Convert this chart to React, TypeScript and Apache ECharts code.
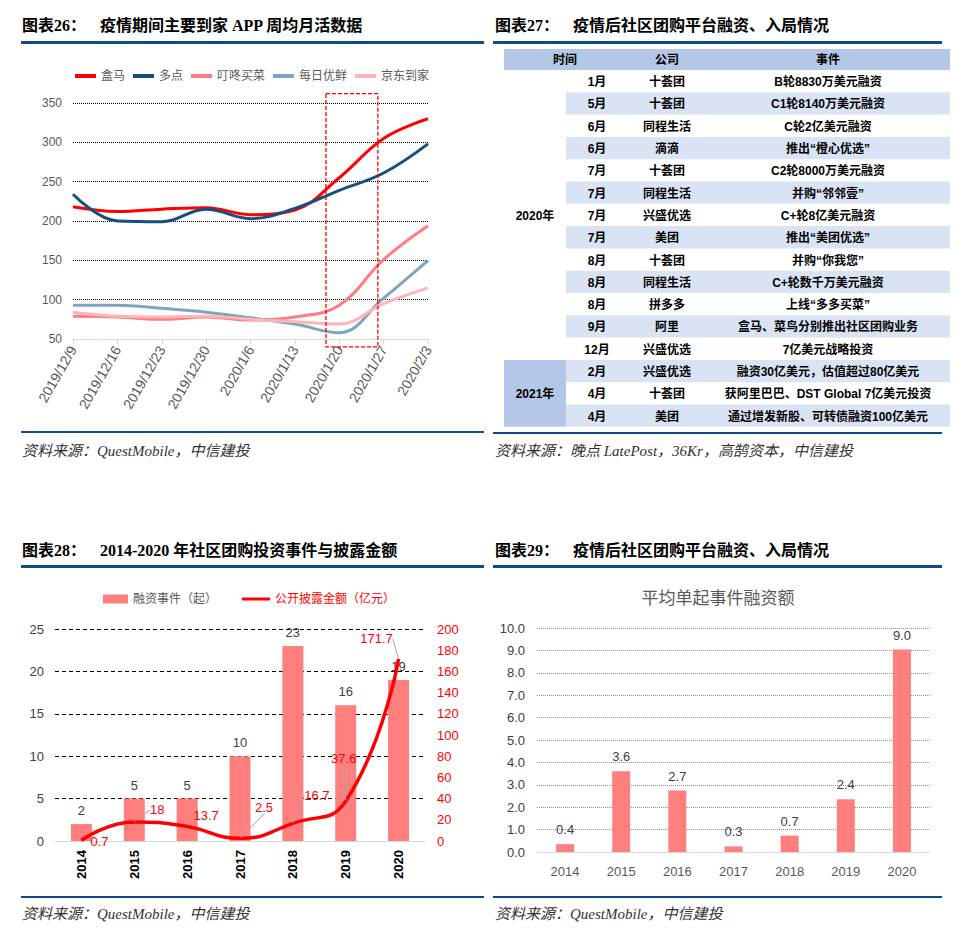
import React, { useEffect, useRef } from 'react';
import * as echarts from 'echarts';

// ---------- Chart 26: weekly active users ----------
const weekDates = ['2019/12/9', '2019/12/16', '2019/12/23', '2019/12/30', '2020/1/6', '2020/1/13', '2020/1/20', '2020/1/27', '2020/2/3'];
const hemaMau = [218, 212, 215, 217, 208, 214, 255, 305, 330];
const duodianMau = [234, 200, 199, 215, 203, 216, 239, 261, 298];
const dingdongMau = [79, 78, 75, 78, 74, 78, 93, 151, 194];
const meiriMau = [93, 93, 89, 84, 77, 69, 58, 102, 150];
const jingdongMau = [84, 79, 78, 79, 75, 72, 69, 95, 115];
const appNames = ['盒马', '多点', '叮咚买菜', '每日优鲜', '京东到家'];

// ---------- Chart 27: table ----------
const tableHeader = ['时间', '公司', '事件'];
const yearGroups = [
  { year: '2020年', rows: 13 },
  { year: '2021年', rows: 3 },
];
const tableMonths = ['1月', '5月', '6月', '6月', '7月', '7月', '7月', '7月', '8月', '8月', '8月', '9月', '12月', '2月', '4月', '4月'];
const tableCompanies = ['十荟团', '十荟团', '同程生活', '滴滴', '十荟团', '同程生活', '兴盛优选', '美团', '十荟团', '同程生活', '拼多多', '阿里', '兴盛优选', '兴盛优选', '十荟团', '美团'];
const tableEvents = [
  'B轮8830万美元融资', 'C1轮8140万美元融资', 'C轮2亿美元融资', '推出“橙心优选”', 'C2轮8000万美元融资',
  '并购“邻邻壹”', 'C+轮8亿美元融资', '推出“美团优选”', '并购“你我您”', 'C+轮数千万美元融资',
  '上线“多多买菜”', '盒马、菜鸟分别推出社区团购业务', '7亿美元战略投资', '融资30亿美元，估值超过80亿美元',
  '获阿里巴巴、DST Global 7亿美元投资', '通过增发新股、可转债融资100亿美元',
];

// ---------- Chart 28 / 29 ----------
const years = ['2014', '2015', '2016', '2017', '2018', '2019', '2020'];
const financingEvents = [2, 5, 5, 10, 23, 16, 19];
const disclosedAmount = [0.7, 18, 13.7, 2.5, 16.7, 37.6, 171.7];
const avgPerEvent = [0.35, 3.6, 2.74, 0.25, 0.73, 2.35, 9.04];

const amountLabelOffsets = [[18, 13], [23, 0], [19, 1], [24, -19], [24, -16], [-2, -31], [-22, -8]];
const amountLeader = [false, true, false, true, true, true, true];

const BLUE = '#0D4C87';
const SALMON = '#FF7F7F';
const appColors = ['#FF0000', '#164E7E', '#FF7C80', '#7FA4C1', '#FFB4B8'];
const appData = [hemaMau, duodianMau, dingdongMau, meiriMau, jingdongMau];

const TITLE_FONT = 'bold 16px "Liberation Serif", "Noto Sans CJK SC", serif';
const FOOT_FONT = 'italic 15px "Liberation Serif", "Noto Sans CJK SC", serif';
const TABLE_FONT = 'bold 12px "Liberation Sans", "Noto Sans CJK SC", sans-serif';

export default function App() {
  const ref = useRef<HTMLDivElement>(null);

  useEffect(() => {
    const chart = echarts.init(ref.current!, null, { renderer: 'svg', width: 968, height: 932 });

    const option: any = {
      animation: false,
      backgroundColor: '#ffffff',
      textStyle: { fontFamily: '"Liberation Sans", "Noto Sans CJK SC", sans-serif' },
      legend: [
        {
          data: appNames,
          left: 70,
          top: 65,
          icon: 'rect',
          itemWidth: 21,
          itemHeight: 4,
          itemGap: 8,
          textStyle: { color: '#595959', fontSize: 12 },
        },
        {
          data: ['融资事件（起）'],
          left: 98,
          top: 588,
          icon: 'rect',
          itemWidth: 25,
          itemHeight: 9,
          textStyle: { color: '#595959', fontSize: 12 },
        },
        {
          data: ['公开披露金额（亿元）'],
          left: 237,
          top: 588,
          icon: 'rect',
          itemWidth: 28,
          itemHeight: 3,
          textStyle: { color: '#FF0000', fontSize: 12 },
        },
      ],
      grid: [
        { left: 73, top: 103, width: 355, height: 236 },
        { left: 55, top: 629, width: 370, height: 212 },
        { left: 537, top: 628, width: 393, height: 224 },
      ],
      xAxis: [
        {
          type: 'category',
          gridIndex: 0,
          data: weekDates,
          boundaryGap: false,
          axisLine: { lineStyle: { color: '#D9D9D9' } },
          axisTick: { show: true, length: 5, lineStyle: { color: '#D9D9D9' } },
          axisLabel: { rotate: 60, color: '#595959', fontSize: 14, margin: 8, interval: 0 },
        },
        {
          type: 'category',
          gridIndex: 1,
          data: years,
          axisLine: { lineStyle: { color: '#D9D9D9' } },
          axisTick: { show: false },
          axisLabel: { rotate: 90, color: '#000', fontSize: 13, fontWeight: 'bold', margin: 9, interval: 0 },
        },
        {
          type: 'category',
          gridIndex: 2,
          data: years,
          axisLine: { lineStyle: { color: '#D9D9D9' } },
          axisTick: { show: false },
          axisLabel: { color: '#595959', fontSize: 13, margin: 13, interval: 0 },
        },
      ],
      yAxis: [
        {
          type: 'value',
          gridIndex: 0,
          min: 50,
          max: 350,
          interval: 50,
          axisLine: { show: false },
          axisTick: { show: false },
          axisLabel: { color: '#595959', fontSize: 12, margin: 11 },
          splitLine: { lineStyle: { color: '#000', type: 'dotted', width: 1 } },
        },
        {
          type: 'value',
          gridIndex: 1,
          min: 0,
          max: 25,
          interval: 5,
          axisLine: { show: false },
          axisTick: { show: false },
          axisLabel: { color: '#404040', fontSize: 13, margin: 11 },
          splitLine: { lineStyle: { color: '#000', type: [4, 3], width: 1.2 } },
        },
        {
          type: 'value',
          gridIndex: 1,
          position: 'right',
          min: 0,
          max: 200,
          interval: 20,
          axisLine: { show: false },
          axisTick: { show: false },
          axisLabel: { color: '#FF0000', fontSize: 13, margin: 12 },
          splitLine: { show: false },
        },
        {
          type: 'value',
          gridIndex: 2,
          min: 0,
          max: 10,
          interval: 1,
          axisLine: { show: false },
          axisTick: { show: false },
          axisLabel: { color: '#404040', fontSize: 13, margin: 12, formatter: (v: number) => v.toFixed(1) },
          splitLine: { lineStyle: { color: '#8C8C8C', type: 'dotted', width: 1 } },
        },
      ],
      series: [
        ...appNames.map((name, i) => ({
          type: 'line',
          name,
          data: appData[i],
          xAxisIndex: 0,
          yAxisIndex: 0,
          smooth: 0.4,
          symbol: 'none',
          lineStyle: { width: 3, color: appColors[i] },
          itemStyle: { color: appColors[i] },
        })),
        {
          type: 'bar',
          name: '融资事件（起）',
          data: financingEvents,
          xAxisIndex: 1,
          yAxisIndex: 1,
          barWidth: 21,
          itemStyle: { color: SALMON },
          label: { show: true, position: 'top', distance: 7, color: '#404040', fontSize: 13 },
        },
        {
          type: 'line',
          name: '公开披露金额（亿元）',
          data: disclosedAmount.map((v, i) => ({ value: v, labelLine: { show: amountLeader[i] } })),
          xAxisIndex: 1,
          yAxisIndex: 2,
          smooth: 0.5,
          symbol: 'circle',
          symbolSize: 1,
          showSymbol: true,
          lineStyle: { width: 3.5, color: '#FF0000' },
          itemStyle: { color: '#FF0000' },
          label: { show: true, position: 'top', distance: 5, color: '#FF0000', fontSize: 13 },
          labelLayout: (p: any) => ({
            dx: amountLabelOffsets[p.dataIndex][0],
            dy: amountLabelOffsets[p.dataIndex][1],
          }),
          labelLine: { show: true, lineStyle: { color: '#A6A6A6', width: 1 } },
          z: 5,
        },
        {
          type: 'bar',
          name: '平均单起事件融资额',
          data: avgPerEvent,
          xAxisIndex: 2,
          yAxisIndex: 3,
          barWidth: 18,
          itemStyle: { color: SALMON },
          label: {
            show: true,
            position: 'top',
            distance: 8,
            color: '#404040',
            fontSize: 13,
            formatter: (p: any) => (Math.round(p.value * 10) / 10).toFixed(1),
          },
        },
      ],
    };

    chart.setOption(option);

    // ---------- graphics ----------
    const g: any[] = [];
    const text = (x: number, y: number, t: string, font: string, fill = '#000', align = 'left') => ({
      type: 'text',
      x,
      y,
      silent: true,
      style: { text: t, font, fill, align, verticalAlign: 'middle' },
    });
    const rect = (x: number, y: number, w: number, h: number, fill: string) => ({
      type: 'rect',
      silent: true,
      shape: { x, y, width: w, height: h },
      style: { fill },
    });

    // Titles
    const titles = [
      { x: 22, y: 25, a: '图表26：', b: '疫情期间主要到家 APP 周均月活数据' },
      { x: 495, y: 25, a: '图表27：', b: '疫情后社区团购平台融资、入局情况' },
      { x: 22, y: 550, a: '图表28：', b: '2014-2020 年社区团购投资事件与披露金额' },
      { x: 495, y: 550, a: '图表29：', b: '疫情后社区团购平台融资、入局情况' },
    ];
    titles.forEach((t) => {
      g.push(text(t.x, t.y, t.a, TITLE_FONT));
      g.push(text(t.x + 78, t.y, t.b, TITLE_FONT));
    });
    // Title rules
    g.push(rect(21, 41, 463, 3, BLUE));
    g.push(rect(493, 41, 449, 3, BLUE));
    g.push(rect(21, 565, 463, 3, BLUE));
    g.push(rect(493, 565, 449, 3, BLUE));
    // Footer rules & sources
    g.push(rect(21, 431, 463, 2, BLUE));
    g.push(rect(493, 432, 449, 2, BLUE));
    g.push(rect(21, 896, 463, 2, BLUE));
    g.push(rect(493, 896, 449, 2, BLUE));
    g.push(text(22, 451, '资料来源：QuestMobile，中信建投', FOOT_FONT, '#333'));
    g.push(text(495, 451, '资料来源：晚点 LatePost，36Kr，高鹄资本，中信建投', FOOT_FONT, '#333'));
    g.push(text(22, 914, '资料来源：QuestMobile，中信建投', FOOT_FONT, '#333'));
    g.push(text(495, 914, '资料来源：QuestMobile，中信建投', FOOT_FONT, '#333'));

    // Chart 29 inner title
    g.push(text(718, 596, '平均单起事件融资额', 'normal 17px "Noto Sans CJK SC", sans-serif', '#595959', 'center'));

    // Dashed highlight box on chart 26
    const pA = chart.convertToPixel({ gridIndex: 0 }, ['2020/1/13', 362]) as number[];
    const pB = chart.convertToPixel({ gridIndex: 0 }, ['2020/1/20', 40]) as number[];
    const pC = chart.convertToPixel({ gridIndex: 0 }, ['2020/1/27', 40]) as number[];
    const step = pB[0] - pA[0];
    const boxL = pB[0] - 0.3 * step;
    const boxR = pC[0] - 0.13 * step;
    g.push({
      type: 'rect',
      silent: true,
      shape: { x: boxL, y: pA[1], width: boxR - boxL, height: pB[1] - pA[1] },
      style: { fill: 'none', stroke: '#FF0000', lineWidth: 1.3, lineDash: [4, 2] },
      z: 10,
    });

    // Table (chart 27)
    const tLeft = 504;
    const tRight = 950;
    const yearW = 62;
    const headTop = 49;
    const headH = 21;
    const rowTop = 70;
    const rowH = 22.3;
    const cMonth = 597;
    const cCompany = 667;
    const cEvent = 828;
    g.push(rect(tLeft, headTop, tRight - tLeft, headH, '#B4C7E7'));
    g.push(text(565, headTop + headH / 2, tableHeader[0], TABLE_FONT, '#000', 'center'));
    g.push(text(cCompany, headTop + headH / 2, tableHeader[1], TABLE_FONT, '#000', 'center'));
    g.push(text(cEvent, headTop + headH / 2, tableHeader[2], TABLE_FONT, '#000', 'center'));
    tableMonths.forEach((m, i) => {
      const y0 = rowTop + i * rowH;
      if (i % 2 === 1) g.push(rect(tLeft + yearW, y0, tRight - tLeft - yearW, rowH, '#DAE3F3'));
      const cy = y0 + rowH / 2 + 1;
      g.push(text(cMonth, cy, m, TABLE_FONT, '#000', 'center'));
      g.push(text(cCompany, cy, tableCompanies[i], TABLE_FONT, '#000', 'center'));
      g.push(text(cEvent, cy, tableEvents[i], TABLE_FONT, '#000', 'center'));
    });
    let startRow = 0;
    yearGroups.forEach((grp, gi) => {
      const y0 = rowTop + startRow * rowH;
      const h = grp.rows * rowH;
      if (gi === 1) g.push(rect(tLeft, y0, yearW, h, '#B4C7E7'));
      g.push(text(tLeft + yearW / 2, y0 + h / 2 + 1, grp.year, TABLE_FONT, '#000', 'center'));
      startRow += grp.rows;
    });

    chart.setOption({ graphic: g });

    return () => chart.dispose();
  }, []);

  return (
    <div
      ref={ref}
      style={{ position: 'fixed', left: 0, top: 0, width: 968, height: 932, background: '#fff' }}
    />
  );
}
